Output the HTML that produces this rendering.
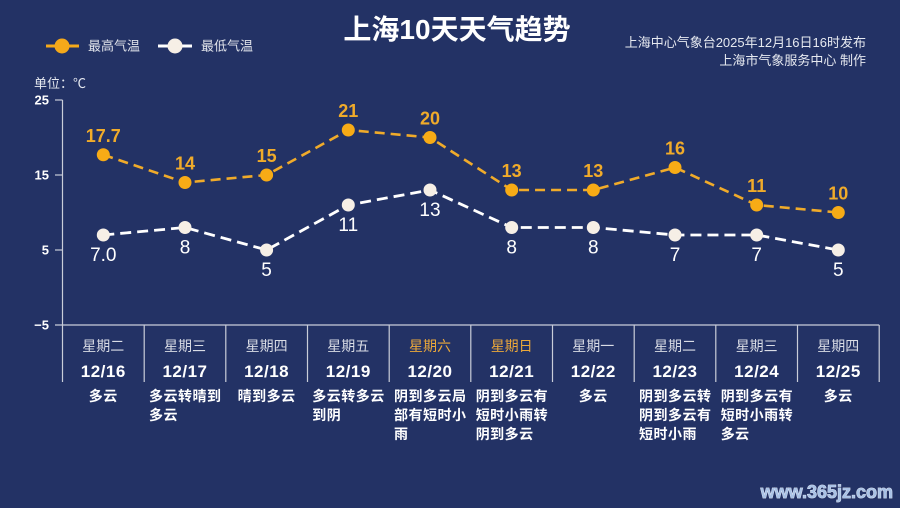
<!DOCTYPE html>
<html><head><meta charset="utf-8"><style>
html,body{margin:0;padding:0;background:#233265;}
svg{display:block;}
text{font-family:"Liberation Sans","Noto Sans CJK SC",sans-serif;}
</style></head><body>
<svg width="900" height="508" viewBox="0 0 900 508" xmlns="http://www.w3.org/2000/svg">
<rect width="900" height="508" fill="#233265"/>
<!-- title -->
<text x="457" y="39" text-anchor="middle" font-size="28" font-weight="bold" fill="#ffffff">上海10天天气趋势</text>
<text x="866" y="47" text-anchor="end" font-size="13" fill="#e6e9f0">上海中心气象台2025年12月16日16时发布</text>
<text x="866" y="65" text-anchor="end" font-size="13" fill="#e6e9f0">上海市气象服务中心  制作</text>
<!-- legend -->
<line x1="46" y1="46" x2="79" y2="46" stroke="#f5a91a" stroke-width="3"/>
<circle cx="62" cy="46" r="7.5" fill="#f5a91a"/>
<text x="88" y="50.5" font-size="13" fill="#e0e3ea">最高气温</text>
<line x1="158" y1="46" x2="192" y2="46" stroke="#ffffff" stroke-width="3"/>
<circle cx="175" cy="46" r="7.5" fill="#f6efe6"/>
<text x="201" y="50.5" font-size="13" fill="#e0e3ea">最低气温</text>
<text x="34" y="88" font-size="13" fill="#e6e9f0">单位：℃</text>
<!-- axes -->
<g stroke="#c9cdd9" stroke-width="1.2" fill="none">
<line x1="62.5" y1="100" x2="62.5" y2="382"/>
<line x1="55" y1="325" x2="879.2" y2="325"/>
<line x1="55" y1="100" x2="62.5" y2="100"/>
<line x1="55" y1="175" x2="62.5" y2="175"/>
<line x1="55" y1="250" x2="62.5" y2="250"/>
<line x1="144.2" y1="325" x2="144.2" y2="382"/>
<line x1="225.8" y1="325" x2="225.8" y2="382"/>
<line x1="307.5" y1="325" x2="307.5" y2="382"/>
<line x1="389.2" y1="325" x2="389.2" y2="382"/>
<line x1="470.8" y1="325" x2="470.8" y2="382"/>
<line x1="552.5" y1="325" x2="552.5" y2="382"/>
<line x1="634.2" y1="325" x2="634.2" y2="382"/>
<line x1="715.8" y1="325" x2="715.8" y2="382"/>
<line x1="797.5" y1="325" x2="797.5" y2="382"/>
<line x1="879.2" y1="325" x2="879.2" y2="382"/>
</g>
<g font-size="13" font-weight="bold" fill="#ffffff" text-anchor="end">
<text x="49" y="104.5">25</text>
<text x="49" y="179.5">15</text>
<text x="49" y="254.5">5</text>
<text x="49" y="329.5">−5</text>
</g>
<!-- high series -->
<polyline fill="none" stroke="#f0ab2a" stroke-width="2.6" stroke-dasharray="10,6" points="103.3,154.75 185,182.5 266.6,175 348.3,130 430,137.5 511.7,190 593.3,190 675,167.5 756.7,205 838.3,212.5"/>
<g fill="#f7ab16">
<circle cx="103.3" cy="154.75" r="6.5"/><circle cx="185" cy="182.5" r="6.5"/><circle cx="266.6" cy="175" r="6.5"/><circle cx="348.3" cy="130" r="6.5"/><circle cx="430" cy="137.5" r="6.5"/><circle cx="511.7" cy="190" r="6.5"/><circle cx="593.3" cy="190" r="6.5"/><circle cx="675" cy="167.5" r="6.5"/><circle cx="756.7" cy="205" r="6.5"/><circle cx="838.3" cy="212.5" r="6.5"/>
</g>
<g font-size="18" font-weight="bold" fill="#f0ab2a" text-anchor="middle">
<text x="103.3" y="142">17.7</text><text x="185" y="169.5">14</text><text x="266.6" y="162">15</text><text x="348.3" y="117">21</text><text x="430" y="124.5">20</text><text x="511.7" y="177">13</text><text x="593.3" y="177">13</text><text x="675" y="154.5">16</text><text x="756.7" y="192">11</text><text x="838.3" y="199.5">10</text>
</g>
<!-- low series -->
<polyline fill="none" stroke="#ffffff" stroke-width="2.8" stroke-dasharray="11,6" points="103.3,235 185,227.5 266.6,250 348.3,205 430,190 511.7,227.5 593.3,227.5 675,235 756.7,235 838.3,250"/>
<g fill="#f6efe6">
<circle cx="103.3" cy="235" r="6.5"/><circle cx="185" cy="227.5" r="6.5"/><circle cx="266.6" cy="250" r="6.5"/><circle cx="348.3" cy="205" r="6.5"/><circle cx="430" cy="190" r="6.5"/><circle cx="511.7" cy="227.5" r="6.5"/><circle cx="593.3" cy="227.5" r="6.5"/><circle cx="675" cy="235" r="6.5"/><circle cx="756.7" cy="235" r="6.5"/><circle cx="838.3" cy="250" r="6.5"/>
</g>
<g font-size="19" fill="#ffffff" text-anchor="middle">
<text x="103.3" y="261">7.0</text><text x="185" y="253.5">8</text><text x="266.6" y="276">5</text><text x="348.3" y="231">11</text><text x="430" y="216">13</text><text x="511.7" y="253.5">8</text><text x="593.3" y="253.5">8</text><text x="675" y="261">7</text><text x="756.7" y="261">7</text><text x="838.3" y="276">5</text>
</g>
<!-- weekdays -->
<g font-size="14" fill="#d9dce5" text-anchor="middle">
<text x="103.3" y="351">星期二</text><text x="185" y="351">星期三</text><text x="266.6" y="351">星期四</text><text x="348.3" y="351">星期五</text>
<text x="430" y="351" fill="#eba83a">星期六</text><text x="511.7" y="351" fill="#eba83a">星期日</text>
<text x="593.3" y="351">星期一</text><text x="675" y="351">星期二</text><text x="756.7" y="351">星期三</text><text x="838.3" y="351">星期四</text>
</g>
<g font-size="17" font-weight="bold" fill="#ffffff" text-anchor="middle" letter-spacing="0.5">
<text x="103.3" y="377">12/16</text><text x="185" y="377">12/17</text><text x="266.6" y="377">12/18</text><text x="348.3" y="377">12/19</text><text x="430" y="377">12/20</text><text x="511.7" y="377">12/21</text><text x="593.3" y="377">12/22</text><text x="675" y="377">12/23</text><text x="756.7" y="377">12/24</text><text x="838.3" y="377">12/25</text>
</g>
<!-- weather -->
<g font-size="14" font-weight="bold" fill="#ffffff" letter-spacing="0.5">
<text x="103.3" y="401" text-anchor="middle">多云</text>
<text x="149" y="401">多云转晴到</text><text x="149" y="420">多云</text>
<text x="266.6" y="401" text-anchor="middle">晴到多云</text>
<text x="312.3" y="401">多云转多云</text><text x="312.3" y="420">到阴</text>
<text x="394" y="401">阴到多云局</text><text x="394" y="420">部有短时小</text><text x="394" y="439">雨</text>
<text x="475.7" y="401">阴到多云有</text><text x="475.7" y="420">短时小雨转</text><text x="475.7" y="439">阴到多云</text>
<text x="593.3" y="401" text-anchor="middle">多云</text>
<text x="639" y="401">阴到多云转</text><text x="639" y="420">阴到多云有</text><text x="639" y="439">短时小雨</text>
<text x="720.7" y="401">阴到多云有</text><text x="720.7" y="420">短时小雨转</text><text x="720.7" y="439">多云</text>
<text x="838.3" y="401" text-anchor="middle">多云</text>
</g>
<!-- watermark -->
<text x="893" y="498" text-anchor="end" font-family="Liberation Serif, serif" font-size="18" font-weight="bold" fill="#a9c2e6" stroke="#e9eef8" stroke-width="0.8" paint-order="stroke">www.365jz.com</text>
</svg>
</body></html>
